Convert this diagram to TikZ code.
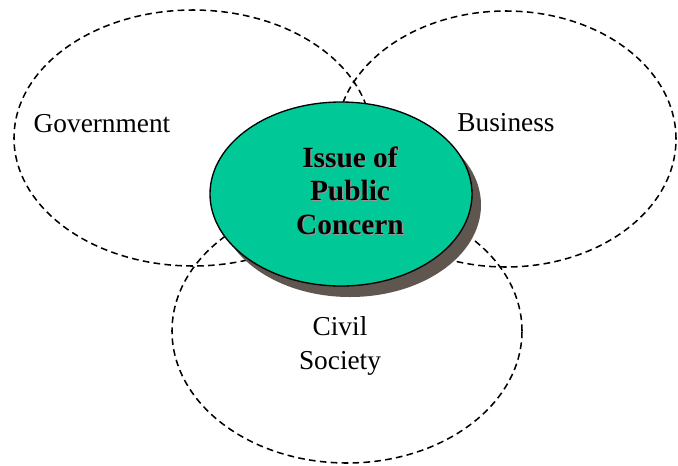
\documentclass[tikz,border=0pt]{standalone}
\usepackage{fontspec}
\setmainfont{Liberation Serif}
\usetikzlibrary{shapes.geometric}
\definecolor{issuegreen}{RGB}{0,200,150}
\definecolor{shadowbrown}{RGB}{94,86,79}
\definecolor{textshade}{RGB}{150,150,150}
\tikzset{
  sector/.style={ellipse, draw=black, dash pattern=on 5pt off 3.2pt,
    line width=1.15pt, inner sep=0pt, outer sep=0pt},
  sectorlabel/.style={align=center, font=\fontsize{20.5}{25.5}\selectfont, inner sep=0pt},
  corelabel/.style={align=center, font=\fontsize{22}{25}\selectfont\bfseries, inner sep=0pt},
}
\begin{document}
\begin{tikzpicture}[x=0.75pt, y=-0.75pt]
  \useasboundingbox (0,0) rectangle (678,465);

  % three overlapping sectors
  \node[sector, minimum width=268.5pt, minimum height=192pt] (gov) at (193,138) {};
  \node[sector, minimum width=255pt, minimum height=192pt] (bus) at (506,139) {};
  \node[sector, minimum width=262.5pt, minimum height=198pt] (civ) at (347,331) {};

  % central issue with drop shadow
  \node[ellipse, fill=shadowbrown, minimum width=196.5pt, minimum height=138pt,
        inner sep=0pt] (issueshadow) at (350,205) {};
  \node[ellipse, draw=black, line width=1pt, fill=issuegreen, minimum width=196.5pt,
        minimum height=138pt, inner sep=0pt] (issue) at (341,194) {};

  \node[corelabel, text=textshade] (coreshade) at (351.3,191.8) {Issue of\\Public\\Concern};
  \node[corelabel] (core) at (350,190.5) {Issue of\\Public\\Concern};

  % sector labels
  \node[sectorlabel] (govlabel) at (102,124) {Government};
  \node[sectorlabel] (buslabel) at (506,123) {Business};
  \node[sectorlabel] (civlabel) at (340,346) {Civil\\Society};
\end{tikzpicture}
\end{document}
